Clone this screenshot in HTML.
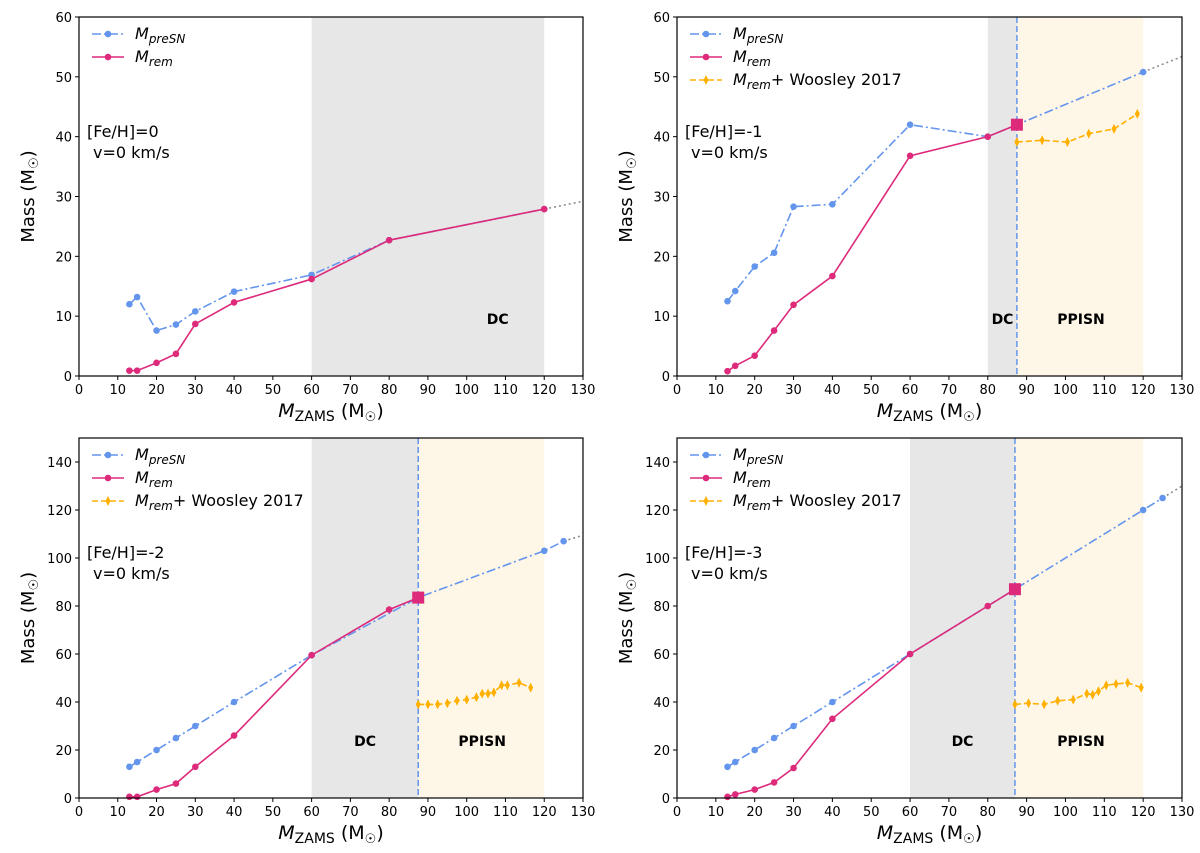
<!DOCTYPE html>
<html><head><meta charset="utf-8"><style>
body{margin:0;background:#fff;}
svg text{font-family:"DejaVu Sans","Liberation Sans",sans-serif;}
</style></head><body>
<svg id="fig" width="1200" height="848" xmlns="http://www.w3.org/2000/svg"></svg>
<script>
// Data arrays
const p1PreX=[13,15,20,25,30,40,60,80,120];
const p1PreY=[12,13.2,7.6,8.6,10.8,14.1,16.9,22.7,27.9];
const p1RemX=[13,15,20,25,30,40,60,80,120];
const p1RemY=[0.9,0.9,2.2,3.7,8.7,12.3,16.2,22.7,27.9];

const p2PreX=[13,15,20,25,30,40,60,80,87.5,120];
const p2PreY=[12.5,14.2,18.3,20.6,28.3,28.7,42,40,42,50.8];
const p2RemX=[13,15,20,25,30,40,60,80,87.5];
const p2RemY=[0.8,1.7,3.4,7.6,11.9,16.7,36.8,40,42];
const p2WX=[87.5,94,100.5,106,112.5,118.5];
const p2WY=[39.1,39.4,39.1,40.5,41.3,43.8];

const p3PreX=[13,15,20,25,30,40,60,87.5,120,125];
const p3PreY=[13,15,20,25,30,40,59.5,83.5,103,107];
const p3RemX=[13,15,20,25,30,40,60,80,87.5];
const p3RemY=[0.5,0.5,3.5,6,13,26,59.5,78.5,83.5];
const p3WX=[87.5,90,92.5,95,97.5,100,102.5,104,105.5,107,109,110.5,113.5,116.5];
const p3WY=[39,39,39,39.5,40.5,41,42,43.5,43.5,44,47,47,48,46];

const p4PreX=[13,15,20,25,30,40,60,87,120,125];
const p4PreY=[13,15,20,25,30,40,60,87,120,125];
const p4RemX=[13,15,20,25,30,40,60,80,87];
const p4RemY=[0.5,1.5,3.5,6.5,12.5,33,60,80,87];
const p4WX=[87,90.5,94.5,98,102,105.5,107,108.5,110.5,113,116,119.5];
const p4WY=[39,39.5,39,40.5,41,43.5,43,44.5,47,47.5,48,46];

const xTicks=[0,10,20,30,40,50,60,70,80,90,100,110,120,130];
const yTicksTop=[0,10,20,30,40,50,60];
const yTicksBot=[0,20,40,60,80,100,120,140];

const BLUE='#6495ED',REM='#DD2A7B',ORG='#FFB000';
const svg=document.getElementById('fig');
const NS='http://www.w3.org/2000/svg';
function mk(tag,attrs,parent,txt){const e=document.createElementNS(NS,tag);for(const k in attrs)e.setAttribute(k,attrs[k]);if(txt!==undefined)e.textContent=txt;(parent||svg).appendChild(e);return e;}

const panels=[
 {id:'p1',x0:79,x1:583,y0:17,y1:376,ymax:60,yt:yTicksTop,feh:'[Fe/H]=0',preX:p1PreX,preY:p1PreY,remX:p1RemX,remY:p1RemY,wx:null,dc:[60,120],pp:null,dcLab:108,ext:[120,27.9,130,29.2]},
 {id:'p2',x0:677,x1:1182,y0:17,y1:376,ymax:60,yt:yTicksTop,feh:'[Fe/H]=-1',preX:p2PreX,preY:p2PreY,remX:p2RemX,remY:p2RemY,wx:p2WX,wy:p2WY,dc:[80,87.5],pp:[87.5,120],dcLab:83.8,ppLab:104,ext:[120,50.8,130,53.4]},
 {id:'p3',x0:79,x1:583,y0:438,y1:798,ymax:150,yt:yTicksBot,feh:'[Fe/H]=-2',preX:p3PreX,preY:p3PreY,remX:p3RemX,remY:p3RemY,wx:p3WX,wy:p3WY,dc:[60,87.5],pp:[87.5,120],dcLab:73.8,ppLab:104,ext:[125,107,130,109.5]},
 {id:'p4',x0:677,x1:1182,y0:438,y1:798,ymax:150,yt:yTicksBot,feh:'[Fe/H]=-3',preX:p4PreX,preY:p4PreY,remX:p4RemX,remY:p4RemY,wx:p4WX,wy:p4WY,dc:[60,87],pp:[87,120],dcLab:73.5,ppLab:104,ext:[125,125,130,130]}
];

panels.forEach(p=>{
 const g=mk('g',{});  
 const sx=v=>p.x0+(p.x1-p.x0)*v/130, sy=v=>p.y1-(p.y1-p.y0)*v/p.ymax;
 let r=mk('rect',{x:sx(p.dc[0]),y:p.y0,width:sx(p.dc[1])-sx(p.dc[0]),height:p.y1-p.y0,fill:'#e7e7e7'},g);
  
 if(p.pp){r=mk('rect',{x:sx(p.pp[0]),y:p.y0,width:sx(p.pp[1])-sx(p.pp[0]),height:p.y1-p.y0,fill:'#fef6e7'},g);
   }
 const lbY=p.y1-52;
 let t=mk('text',{x:sx(p.dcLab),y:lbY,'font-size':14,'font-weight':'bold','text-anchor':'middle'},g,'DC');
  
 if(p.pp){t=mk('text',{x:sx(p.ppLab),y:lbY,'font-size':14,'font-weight':'bold','text-anchor':'middle'},g,'PPISN');
   
  let vl=mk('line',{x1:sx(p.pp[0]),x2:sx(p.pp[0]),y1:p.y0,y2:p.y1,stroke:BLUE,'stroke-width':1.5,'stroke-dasharray':'6,3'},g);
   }
 let ex=mk('line',{x1:sx(p.ext[0]),y1:sy(p.ext[1]),x2:sx(p.ext[2]),y2:sy(p.ext[3]),stroke:'#888','stroke-width':1.5,'stroke-dasharray':'2,3'},g);
  
 const pts=(X,Y)=>X.map((x,i)=>sx(x)+','+sy(Y[i])).join(' ');
 let l=mk('polyline',{points:pts(p.preX,p.preY),fill:'none',stroke:BLUE,'stroke-width':1.6,'stroke-dasharray':'9,3,2,3'},g);
  
 p.preX.forEach((x,i)=>{ if(p.pp && x===p.pp[0]) return; const c=mk('circle',{cx:sx(x),cy:sy(p.preY[i]),r:3.3,fill:BLUE},g);
   });
 l=mk('polyline',{points:pts(p.remX,p.remY),fill:'none',stroke:REM,'stroke-width':1.6},g);
  
 p.remX.forEach((x,i)=>{ const last=p.pp && i===p.remX.length-1;
  let c; if(last){c=mk('rect',{x:sx(x)-6,y:sy(p.remY[i])-6,width:12,height:12,fill:REM},g);}
  else c=mk('circle',{cx:sx(x),cy:sy(p.remY[i]),r:3.3,fill:REM},g);
   });
 if(p.wx){ l=mk('polyline',{points:pts(p.wx,p.wy),fill:'none',stroke:ORG,'stroke-width':1.6,'stroke-dasharray':'6,3'},g);
   
  p.wx.forEach((x,i)=>{const cx=sx(x),cy=sy(p.wy[i]);
   const d=mk('polygon',{points:`${cx},${cy-5} ${cx+2.5},${cy} ${cx},${cy+5} ${cx-2.5},${cy}`,fill:ORG},g);
    });}
 mk('rect',{x:p.x0,y:p.y0,width:p.x1-p.x0,height:p.y1-p.y0,fill:'none',stroke:'#000','stroke-width':1.2},g);
 xTicks.forEach(v=>{mk('line',{x1:sx(v),x2:sx(v),y1:p.y1,y2:p.y1+4,stroke:'#000'},g);
  const tt=mk('text',{x:sx(v),y:p.y1+18,'font-size':13,'text-anchor':'middle'},g,v);
   });
 p.yt.forEach(v=>{mk('line',{x1:p.x0-4,x2:p.x0,y1:sy(v),y2:sy(v),stroke:'#000'},g);
  const tt=mk('text',{x:p.x0-7,y:sy(v)+5,'font-size':13,'text-anchor':'end'},g,v);
   });
 const xt=mk('text',{x:(p.x0+p.x1)/2,y:p.y1+41,'font-size':19,'text-anchor':'middle'},g);
  
 xt.innerHTML='<tspan font-style="italic">M</tspan><tspan font-size="14" dy="4">ZAMS</tspan><tspan dy="-4"> (M</tspan><tspan font-size="13" dy="4">☉</tspan><tspan dy="-4">)</tspan>';
 const yc=(p.y0+p.y1)/2, yx=p.x0-45;
 const yt=mk('text',{x:yx,y:yc,'font-size':18,'text-anchor':'middle',transform:`rotate(-90 ${yx} ${yc})`},g);
  
 yt.innerHTML='Mass (M<tspan font-size="13" dy="4">☉</tspan><tspan dy="-4">)</tspan>';
 const a1=mk('text',{x:p.x0+8,y:p.y0+120,'font-size':16},g,p.feh);
  
 const a2=mk('text',{x:p.x0+14,y:p.y0+141,'font-size':16},g,'v=0 km/s');
  
 const entries=[['presn',BLUE,'9,3,2,3','pre'],['rem',REM,'','rem']]; if(p.wx) entries.push(['woosley',ORG,'6,3','w']);
 entries.forEach((e,i)=>{const ly=p.y0+17+i*23;
  const lg=mk('g',{},g);  
  mk('line',{x1:p.x0+13,x2:p.x0+45,y1:ly,y2:ly,stroke:e[1],'stroke-width':1.6,'stroke-dasharray':e[2]},lg);
  if(e[3]==='w'){const cx=p.x0+29;mk('polygon',{points:`${cx},${ly-5} ${cx+2.5},${ly} ${cx},${ly+5} ${cx-2.5},${ly}`,fill:ORG},lg);}
  else mk('circle',{cx:p.x0+29,cy:ly,r:3.3,fill:e[1]},lg);
  const tx=mk('text',{x:p.x0+56,y:ly+5,'font-size':16},lg);
  if(e[3]==='pre') tx.innerHTML='<tspan font-style="italic">M</tspan><tspan font-style="italic" font-size="12" dy="4">preSN</tspan>';
  else if(e[3]==='rem') tx.innerHTML='<tspan font-style="italic">M</tspan><tspan font-style="italic" font-size="12" dy="4">rem</tspan>';
  else tx.innerHTML='<tspan font-style="italic">M</tspan><tspan font-style="italic" font-size="12" dy="4">rem</tspan><tspan dy="-4">+ Woosley 2017</tspan>';
 });
});
</script>
</body></html>
